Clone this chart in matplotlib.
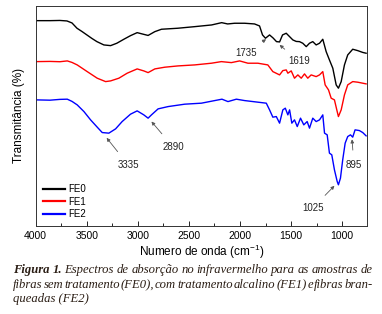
import matplotlib
matplotlib.use('Agg')
import matplotlib.pyplot as plt
from matplotlib.ticker import MultipleLocator

plt.rcParams['font.family'] = ['Liberation Sans', 'DejaVu Sans']
plt.rcParams['mathtext.default'] = 'regular'

# numero de onda (cm-1) e transmitancia (unidades arbitrarias, curvas deslocadas)
wn_fe0 = [3997, 3860, 3763, 3694, 3645, 3596, 3548, 3499, 3450, 3401, 3333, 3267,
          3206, 3137, 3072, 3007, 2958, 2900, 2834, 2769, 2610, 2444, 2278, 2180,
          2121, 2053, 1955, 1858, 1809, 1780, 1751, 1711, 1677, 1643, 1613, 1584,
          1548, 1515, 1483, 1450, 1418, 1386, 1352, 1320, 1288, 1255, 1222, 1190,
          1157, 1125, 1092, 1059, 1037, 1010, 978, 946, 897, 848, 799, 766]
t_fe0 = [205.3, 205.3, 205.5, 205.0, 203.0, 197.7, 194.5, 191.0, 187.5, 184.3, 181.0, 180.3,
         182.7, 186.7, 190.3, 193.3, 192.0, 190.5, 194.3, 196.7, 197.7, 199.3, 201.0, 203.3,
         202.0, 202.7, 202.7, 202.0, 200.0, 191.0, 187.7, 191.0, 188.0, 184.3, 184.0, 191.0,
         192.7, 189.3, 186.0, 184.5, 184.3, 182.7, 179.3, 182.7, 184.3, 181.0, 182.7, 186.7,
         174.3, 166.0, 157.7, 141.0, 137.7, 144.3, 161.0, 171.0, 176.7, 175.3, 173.5, 172.7]

wn_fe1 = [3997, 3860, 3763, 3691, 3645, 3594, 3496, 3398, 3316, 3267, 3186, 3105,
          3007, 2942, 2900, 2834, 2737, 2607, 2444, 2280, 2183, 2085, 2004, 1923,
          1825, 1728, 1679, 1613, 1581, 1548, 1532, 1499, 1467, 1434, 1401, 1369,
          1337, 1304, 1255, 1222, 1190, 1167, 1134, 1108, 1076, 1049, 1037, 1010,
          978, 946, 897, 848, 799, 766]
t_fe1 = [164.3, 164.5, 164.2, 165.0, 163.5, 161.0, 154.3, 147.7, 144.3, 145.0, 147.7, 152.7,
         157.0, 155.0, 153.3, 157.0, 158.7, 160.0, 161.0, 162.7, 164.3, 163.3, 165.0, 162.7,
         162.7, 161.0, 154.3, 151.0, 155.3, 156.0, 152.7, 155.0, 147.7, 151.0, 147.7, 152.0,
         147.7, 151.0, 149.3, 151.0, 154.3, 141.0, 136.0, 127.7, 126.0, 114.3, 109.3, 116.0,
         131.0, 141.0, 144.3, 143.7, 142.7, 142.0]

wn_fe2 = [3997, 3860, 3763, 3691, 3645, 3594, 3528, 3463, 3398, 3349, 3284, 3218,
          3154, 3072, 3007, 2942, 2900, 2867, 2802, 2704, 2541, 2378, 2248, 2177,
          2118, 2036, 1955, 1825, 1743, 1711, 1679, 1645, 1613, 1581, 1557, 1532,
          1515, 1493, 1467, 1440, 1408, 1376, 1343, 1320, 1288, 1255, 1222, 1190,
          1173, 1147, 1125, 1102, 1076, 1049, 1037, 1017, 995, 971, 946, 919,
          897, 874, 832, 799, 766]
t_fe2 = [126.0, 125.7, 126.5, 126.7, 124.5, 121.0, 114.3, 106.0, 98.7, 93.3, 92.7, 97.0,
         104.3, 111.7, 115.0, 111.0, 107.7, 111.0, 117.0, 119.3, 121.7, 122.7, 125.3, 126.7,
         124.3, 126.7, 125.3, 123.7, 122.7, 116.0, 108.7, 109.3, 102.7, 116.0, 117.7, 111.0,
         116.0, 102.7, 106.0, 99.3, 107.7, 101.0, 104.3, 97.7, 107.7, 104.3, 106.0, 111.0,
         92.7, 91.0, 72.7, 71.0, 56.0, 44.3, 41.0, 47.7, 66.0, 82.7, 89.3, 91.0,
         88.7, 96.0, 95.3, 93.3, 90.0]

series = ['FE0', 'FE1', 'FE2']
colors = ['black', 'red', 'blue']

# picos marcados: rotulo, ponto na curva, posicao do texto
peak_labels = ['1735', '1619', '3335', '2890', '1025', '895']
peak_xy = [(1745, 186.7), (1613, 181.0), (3306, 88.0), (2867, 104.3), (1076, 40.0), (904, 86.5)]
peak_text = [(1945, 172.5), (1418, 164.5), (3095, 61.0), (2656, 79.0), (1290, 17.7), (885, 61.0)]

fig = plt.figure(figsize=(3.82, 3.14), dpi=100)
ax = fig.add_axes([0.0935, 0.281, 0.8665, 0.700])

for wn, t, name, c in zip([wn_fe0, wn_fe1, wn_fe2], [t_fe0, t_fe1, t_fe2], series, colors):
    ax.plot(wn, t, color=c, lw=1.0, label=name)

for lab, xy, xt in zip(peak_labels, peak_xy, peak_text):
    ax.annotate(lab, xy=xy, xytext=xt, fontsize=7, ha='center', va='center', color='#222222',
                arrowprops=dict(arrowstyle='-|>', color='#555555', lw=0.6,
                                mutation_scale=5, shrinkA=5, shrinkB=0))

ax.set_xlim(4000, 760)
ax.set_ylim(0, 220)
ax.set_yticks([])
ax.xaxis.set_major_locator(MultipleLocator(500))
ax.xaxis.set_minor_locator(MultipleLocator(250))
ax.tick_params(axis='x', which='major', direction='in', length=3.5, width=0.6,
               labelsize=7.5, pad=4, top=False)
ax.tick_params(axis='x', which='minor', direction='in', length=2, width=0.6, top=False)
for s in ax.spines.values():
    s.set_linewidth(0.7)
    s.set_color('#333333')

ax.set_ylabel('Transmitância (%)', fontsize=8.5, labelpad=8)
ax.set_xlabel('Numero de onda (cm$^{-1}$)', fontsize=8.5, labelpad=1)

leg = ax.legend(loc='lower left', frameon=False, fontsize=7, handlelength=2.3,
                handletextpad=0.3, labelspacing=0.25, borderaxespad=0.3,
                bbox_to_anchor=(0.0, 0.0))
for h in leg.get_lines():
    h.set_linewidth(1.6)

# legenda da figura (texto justificado)
cap_color = '#2a1d14'
cap_lines = [
    [('Figura', 'bold'), ('1.', 'bold'), ('Espectros', 'normal'), ('de', 'normal'),
     ('absorção', 'normal'), ('no', 'normal'), ('infravermelho', 'normal'), ('para', 'normal'),
     ('as', 'normal'), ('amostras', 'normal'), ('de', 'normal')],
    [('fibras', 'normal'), ('sem', 'normal'), ('tratamento', 'normal'), ('(FE0),', 'normal'),
     ('com', 'normal'), ('tratamento', 'normal'), ('alcalino', 'normal'), ('(FE1)', 'normal'),
     ('e', 'normal'), ('fibras', 'normal'), ('bran-', 'normal')],
    [('queadas (FE2)', 'normal')],
]
cap_y = [0.131, 0.083, 0.038]
x0, x1 = 13 / 382, 373 / 382
renderer = fig.canvas.get_renderer()
for i, (words, y) in enumerate(zip(cap_lines, cap_y)):
    texts = [fig.text(0, y, w, fontsize=9.05, family='Liberation Serif', style='italic',
                      weight=wt, color=cap_color, va='baseline') for w, wt in words]
    widths = [t.get_window_extent(renderer).width / fig.bbox.width for t in texts]
    if len(texts) > 1 and i < len(cap_lines) - 1:
        gap = (x1 - x0 - sum(widths)) / (len(texts) - 1)
    else:
        gap = 0.01
    x = x0
    for t, w in zip(texts, widths):
        t.set_x(x)
        x += w + gap

fig.savefig('out.png', dpi=100)
